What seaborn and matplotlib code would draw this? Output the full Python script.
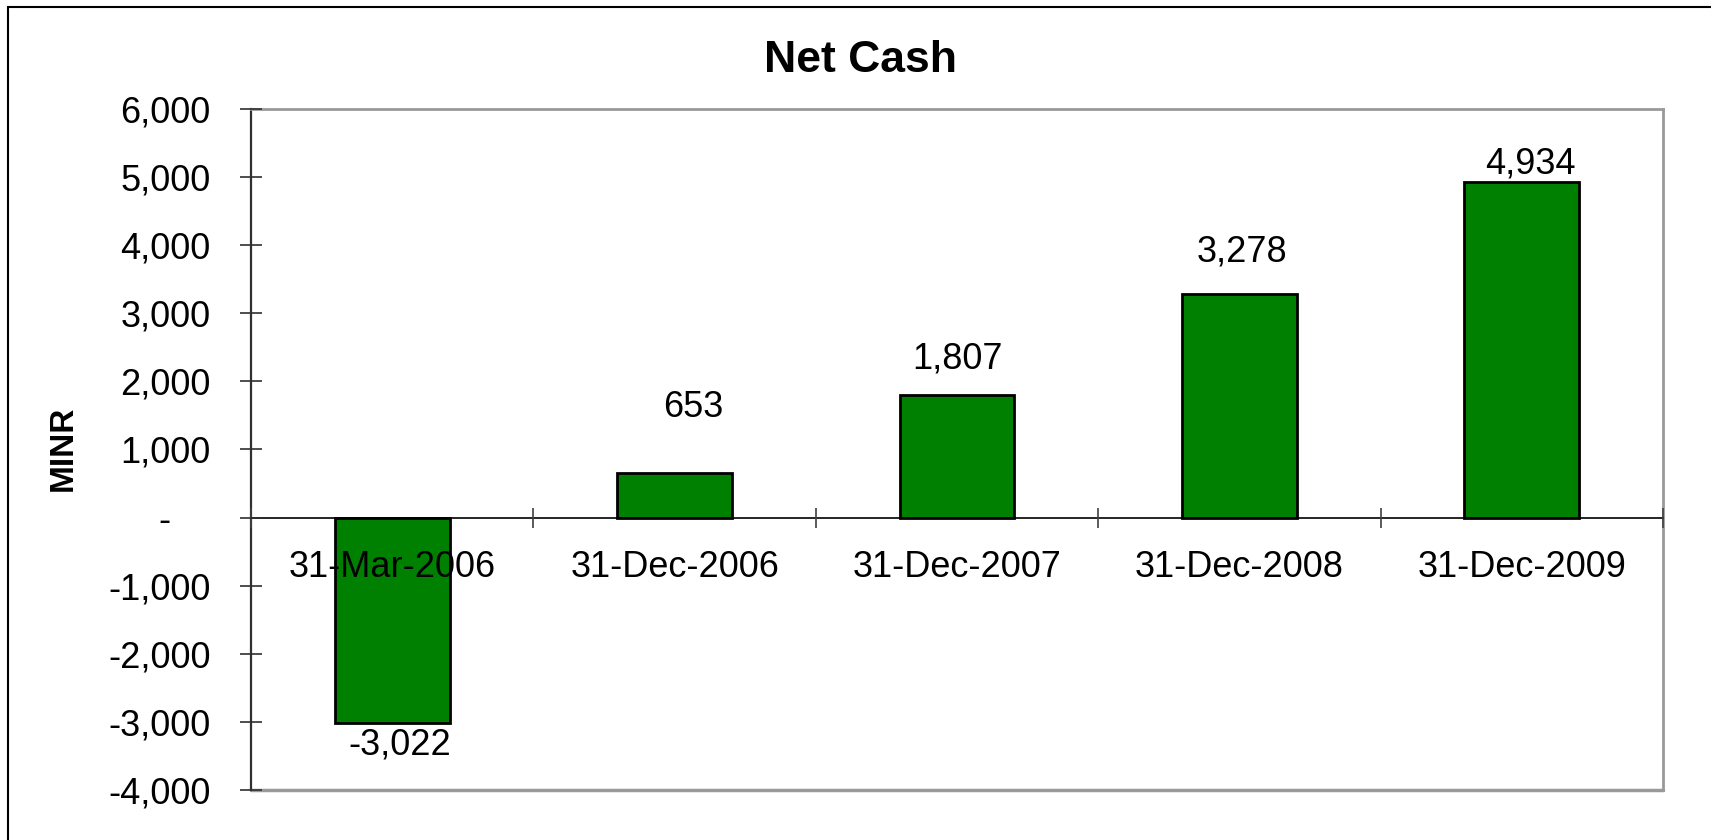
import matplotlib.pyplot as plt
import matplotlib.ticker as mticker
import pandas as pd
import seaborn as sns
from matplotlib.patches import Rectangle

# Data
dates = ['31-Mar-2006', '31-Dec-2006', '31-Dec-2007', '31-Dec-2008', '31-Dec-2009']
net_cash = [-3022, 653, 1807, 3278, 4934]
y_ticks = [-4000, -3000, -2000, -1000, 0, 1000, 2000, 3000, 4000, 5000, 6000]

# label nudges in pixels (dx, dy), as placed in the original
label_offsets = [(8, -22), (19, 66), (0, 36), (3, 42), (9, 18)]

sns.set_theme(style='white')
plt.rcParams['font.family'] = ['Liberation Sans', 'DejaVu Sans']
plt.rcParams['text.color'] = 'black'

W, H = 1711, 840
fig = plt.figure(figsize=(W / 100, H / 100), dpi=100)
ax = fig.add_axes([251 / W, 1 - 790 / H, (1663 - 251) / W, (790 - 109) / H])

df = pd.DataFrame({'date': dates, 'value': net_cash})
sns.barplot(data=df, x='date', y='value', color='#008000', saturation=1,
            width=0.407, edgecolor='black', linewidth=2, ax=ax)

ax.set_ylim(-4000, 6000)
ax.set_xlim(-0.5, len(dates) - 0.5)
ax.set_yticks(y_ticks)
ax.yaxis.set_major_formatter(mticker.FuncFormatter(
    lambda v, p: f'{v:,.0f}' if v != 0 else '-    '))
ax.set_xlabel('')
ax.set_ylabel('')
ax.set_axisbelow(False)  # category labels sit on top of the bars

# spines
ax.spines['bottom'].set_position(('data', 0))
ax.spines['bottom'].set_color('black')
ax.spines['bottom'].set_linewidth(1.2)
ax.spines['left'].set_color('#303030')
ax.spines['left'].set_linewidth(1.6)
for s in ['top', 'right']:
    ax.spines[s].set_color('#999999')
    ax.spines[s].set_linewidth(2)
ax.axhline(-4000, color='#999999', lw=2.5, clip_on=False)

# ticks
ax.tick_params(axis='y', which='major', left=True, direction='inout', length=16,
               width=1.2, color='#303030', pad=21, labelsize=26, labelcolor='black')
ax.set_xticks(range(len(dates)))
ax.set_xticklabels(dates)
ax.set_xticks([i - 0.5 for i in range(len(dates) + 1)], minor=True)
ax.tick_params(axis='x', which='major', bottom=True, length=0, pad=23,
               labelsize=26, labelcolor='black')
ax.tick_params(axis='x', which='minor', bottom=True, direction='inout', length=14,
               width=1.2, color='#404040')

# value labels
for i, (v, (dx, dy)) in enumerate(zip(net_cash, label_offsets)):
    ax.annotate(f'{v:,}', xy=(i, v), xytext=(dx, dy), textcoords='offset pixels',
                ha='center', va='center', fontsize=26, color='black')

fig.text(860 / W, 1 - 60 / H, 'Net Cash', ha='center', va='center',
         fontsize=32, fontweight='bold', color='black')
fig.text(63.5 / W, 1 - 448 / H, 'MINR', ha='center', va='center', rotation=90,
         fontsize=24, fontweight='bold', color='black')

# outer chart frame
fig.add_artist(Rectangle((7.5 / W, -0.1), 1.2, 1.1 - 7.5 / H, transform=fig.transFigure,
                         fill=False, edgecolor='black', lw=1.5))

fig.savefig('out.png', dpi=100)
